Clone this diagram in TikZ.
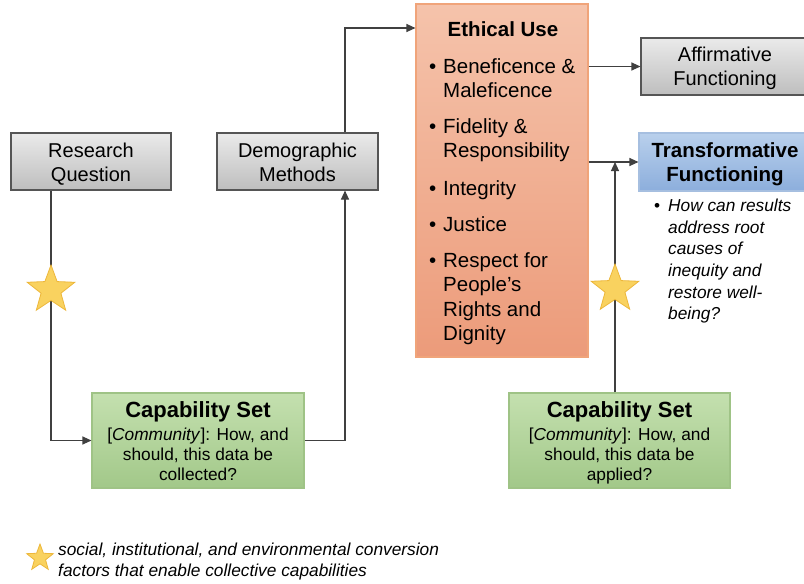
\documentclass[tikz,border=0pt]{standalone}
\usepackage{fontspec}
\setmainfont{Liberation Sans}
\usetikzlibrary{shapes.geometric,arrows.meta}
\definecolor{grayTop}{HTML}{EAEAEA}
\definecolor{grayBot}{HTML}{BEBEBE}
\definecolor{grayLine}{HTML}{555555}
\definecolor{orTop}{HTML}{F5C3AB}
\definecolor{orBot}{HTML}{EC9B7A}
\definecolor{orLine}{HTML}{F0A47A}
\definecolor{blTop}{HTML}{B9D0EC}
\definecolor{blBot}{HTML}{8CAEDC}
\definecolor{blLine}{HTML}{A6BFE0}
\definecolor{grTop}{HTML}{C4E0AF}
\definecolor{grBot}{HTML}{A2C889}
\definecolor{grLine}{HTML}{9FC386}
\definecolor{stFill}{HTML}{F9D25F}
\definecolor{stLine}{HTML}{EDB73A}
\definecolor{lineCol}{HTML}{404040}
\tikzset{
  box/.style={line width=1.1pt, inner sep=0pt, align=center},
  graybox/.style={box, draw=grayLine, top color=grayTop, bottom color=grayBot,
    minimum height=57pt, font=\fontsize{20}{24}\selectfont},
  orangebox/.style={box, draw=orLine, top color=orTop, bottom color=orBot},
  bluebox/.style={box, draw=blLine, top color=blTop, bottom color=blBot,
    font=\fontsize{20.5}{24.5}\selectfont\bfseries},
  greenbox/.style={box, draw=grLine, top color=grTop, bottom color=grBot,
    font=\fontsize{17.3}{20}\selectfont},
  ethtitle/.style={inner sep=0pt, font=\fontsize{20.5}{24.5}\selectfont\bfseries},
  ethitem/.style={inner sep=0pt, anchor=north west, align=left,
    font=\fontsize{20.5}{24.5}\selectfont},
  note/.style={inner sep=0pt, anchor=north west, align=left,
    font=\fontsize{17.3}{21.6}\selectfont\itshape},
  conn/.style={draw=lineCol, line width=1.1pt, -{Triangle[length=9pt,width=8pt]}},
  starnode/.style={star, star points=5, star point ratio=2.4, fill=stFill,
    draw=stLine, line width=0.8pt, minimum size=50pt, inner sep=0pt},
}
\begin{document}
\begin{tikzpicture}[x=1pt,y=-1pt]
\path[use as bounding box] (0,0) rectangle (804,584);
\clip (0,0) rectangle (804,584);
\fill[white] (0,0) rectangle (804,584);

% boxes
\node[graybox, minimum width=160pt] (rq) at (91,161.5)
  {\rule{0pt}{19pt}Research\\Question\rule[-4pt]{0pt}{0pt}};
\node[graybox, minimum width=161pt] (dm) at (297.5,161.5)
  {\rule{0pt}{19pt}Demographic\\Methods\rule[-4pt]{0pt}{0pt}};
\node[orangebox, minimum width=172pt, minimum height=353pt] (eu) at (502,180.5) {};
\node[graybox, minimum width=168pt] (af) at (725,66.5)
  {\rule{0pt}{19pt}Affirmative\\Functioning\rule[-4pt]{0pt}{0pt}};
\node[bluebox, minimum width=172pt, minimum height=58pt] (tf) at (725,162)
  {\rule{0pt}{19pt}Transformative\\Functioning\rule[-4.5pt]{0pt}{0pt}};
\node[greenbox, minimum width=212pt, minimum height=95pt] (cs1) at (198,440.5)
  {\rule{0pt}{20pt}{\fontsize{22}{24}\selectfont\bfseries Capability Set}\\[3pt]{[}\textit{Community}{]}: How, and\\should, this data be\\collected?\rule[-4pt]{0pt}{0pt}};
\node[greenbox, minimum width=221pt, minimum height=95pt] (cs2) at (619.5,440.5)
  {\rule{0pt}{20pt}{\fontsize{22}{24}\selectfont\bfseries Capability Set}\\[3pt]{[}\textit{Community}{]}: How, and\\should, this data be\\applied?\rule[-4pt]{0pt}{0pt}};

% ethical use content
\node[ethtitle, anchor=base] (eut) at (503,36) {Ethical Use};
\node[ethitem] (e1) at (443,58) {\llap{\textbullet\hspace{7pt}}Beneficence \&\\Maleficence};
\node[ethitem] (e2) at (443,118) {\llap{\textbullet\hspace{7pt}}Fidelity \&\\Responsibility};
\node[ethitem] (e3) at (443,180) {\llap{\textbullet\hspace{7pt}}Integrity};
\node[ethitem] (e4) at (443,216) {\llap{\textbullet\hspace{7pt}}Justice};
\node[ethitem] (e5) at (443,252) {\llap{\textbullet\hspace{7pt}}Respect for\\People’s\\Rights and\\Dignity};

% transformative note
\node[note] (tq) at (668,199) {\llap{\upshape\textbullet\hspace{8pt}}How can results\\address root\\causes of\\inequity and\\restore well-\\being?};

% connectors
\coordinate (c1) at (51,290);
\coordinate (c2) at (615,289);
\coordinate (j1) at (345,28);
\draw[conn] (rq.south -| c1) |- (cs1.west);
\draw[conn] (cs1.east) -| (dm.south -| j1);
\draw[conn] (dm.north -| j1) |- (eu.west |- j1);
\draw[conn] (eu.east |- af.west) -- (af.west);
\draw[conn] (eu.east |- tf.west) -- (tf.west);
\draw[conn] (cs2.north -| c2) -- (c2 |- tf.west);

% stars
\node[starnode] (s1) at (c1) {};
\node[starnode] (s2) at (c2) {};

% legend
\node[starnode, minimum size=28pt] (s3) at (40,558) {};
\node[note, font=\fontsize{17.3}{21}\selectfont\itshape] (lg) at (58,543)
  {social, institutional, and environmental conversion\\factors that enable collective capabilities};
\end{tikzpicture}
\end{document}
